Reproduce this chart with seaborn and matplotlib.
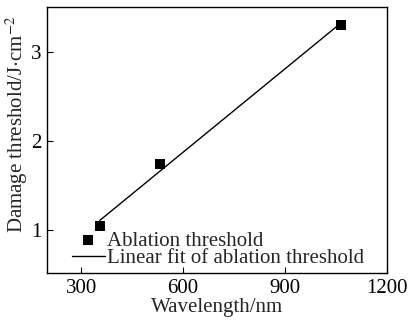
import numpy as np
import pandas as pd
import matplotlib
matplotlib.use('Agg')
import matplotlib.pyplot as plt
import seaborn as sns

# 数据 - 波长与损伤阈值
wavelength = [355, 532, 1064]
threshold = [1.05, 1.74, 3.30]
x_ticks = [300, 600, 900, 1200]
y_ticks = [1, 2, 3]

sns.set_style('ticks')
plt.rcParams['font.family'] = ['Liberation Serif', 'DejaVu Serif']
plt.rcParams['mathtext.fontset'] = 'stix'
plt.rcParams['font.size'] = 15

df = pd.DataFrame({'wavelength': wavelength, 'threshold': threshold})

# 线性拟合
k, b = np.polyfit(df['wavelength'], df['threshold'], 1)
fit = pd.DataFrame({'wavelength': [min(wavelength), max(wavelength)]})
fit['threshold'] = k * fit['wavelength'] + b

fig = plt.figure(figsize=(4.1, 3.2), dpi=100)
ax = fig.add_axes([0.115, 0.147, 0.829, 0.831])

sns.scatterplot(data=df, x='wavelength', y='threshold', marker='s', s=45,
                color='black', edgecolor='black', linewidth=0,
                label='Ablation threshold', ax=ax, zorder=3)
sns.lineplot(data=fit, x='wavelength', y='threshold', color='black', lw=1,
             label='Linear fit of ablation threshold', ax=ax)

ax.set_xlim(200, 1200)
ax.set_ylim(0.52, 3.5)
ax.set_xticks(x_ticks)
ax.set_yticks(y_ticks)
ax.tick_params(direction='in', length=4, width=0.8, colors='black', labelsize=15, pad=4)
for sp in ax.spines.values():
    sp.set_color('black')
    sp.set_linewidth(1)

ax.set_xlabel('Wavelength/nm', fontsize=15, labelpad=0)
ax.set_ylabel(r'Damage threshold/J$\cdot$cm$^{-2}$', fontsize=15)
ax.yaxis.set_label_coords(-0.05, 0.56)

ax.legend(loc='lower left', bbox_to_anchor=(0.035, -0.03), frameon=False,
          handlelength=1.6, handletextpad=0.1, labelspacing=-0.08,
          borderaxespad=0.2, fontsize=15)

plt.savefig('out.png', dpi=100)
